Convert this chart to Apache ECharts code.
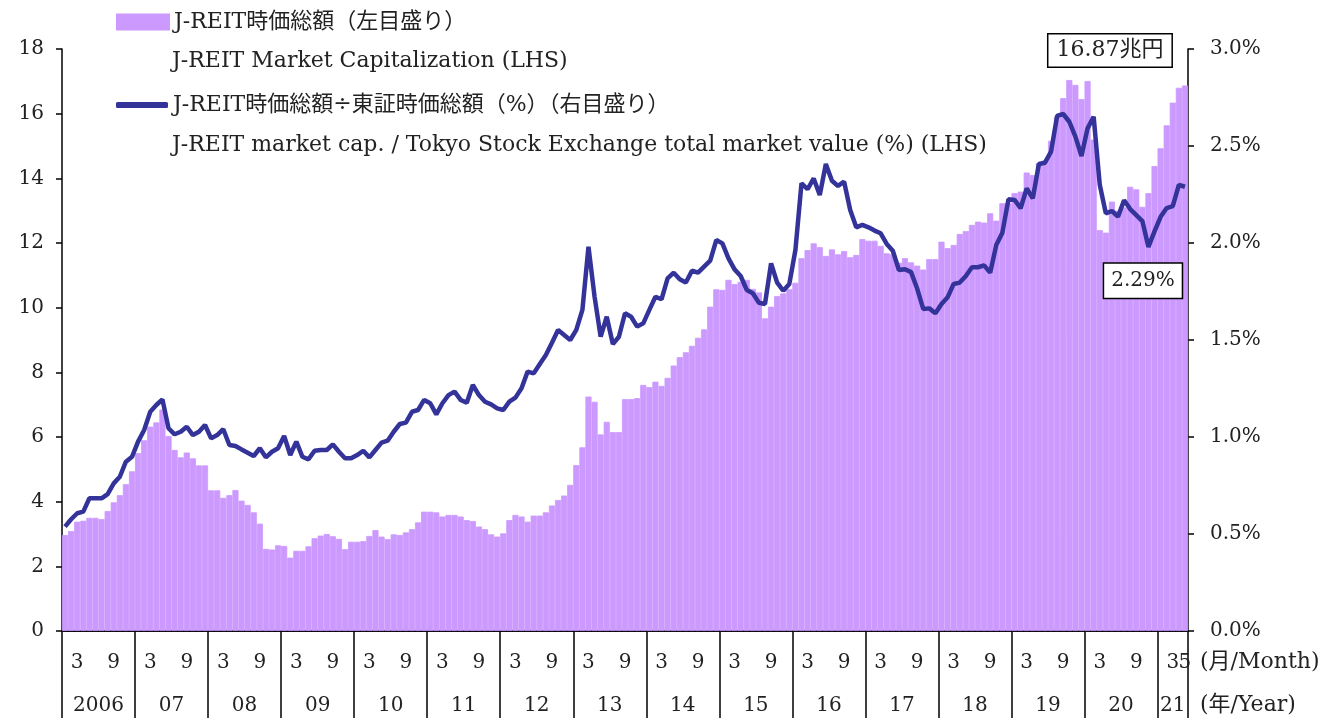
<!DOCTYPE html>
<html>
<head>
<meta charset="utf-8">
<script src="https://cdn.jsdelivr.net/npm/echarts@6/dist/echarts.min.js"></script>
<style>
html, body { margin: 0; padding: 0; background: #fff; }
#chart { width: 1330px; height: 718px; }
</style>
</head>
<body>
<div id="chart"></div>
<script>
// 月次データ 2006年1月〜2021年5月
var startYear = 2006;
var yearLabels = ['2006', '07', '08', '09', '10', '11', '12', '13', '14', '15', '16', '17', '18', '19', '20', '21'];

// J-REIT時価総額（兆円）
var capData = [
  2.97, 3.09, 3.38, 3.41, 3.50, 3.50, 3.46, 3.71, 3.98, 4.20, 4.54, 4.94,
  5.50, 5.90, 6.32, 6.45, 6.85, 6.03, 5.60, 5.37, 5.52, 5.34, 5.12, 5.12,
  4.35, 4.35, 4.12, 4.20, 4.36, 4.03, 3.90, 3.67, 3.32, 2.54, 2.52, 2.65,
  2.63, 2.27, 2.48, 2.48, 2.62, 2.87, 2.95, 3.00, 2.93, 2.85, 2.53, 2.76,
  2.76, 2.78, 2.94, 3.12, 2.92, 2.84, 2.99, 2.97, 3.05, 3.15, 3.36, 3.69,
  3.69, 3.67, 3.54, 3.59, 3.59, 3.54, 3.43, 3.40, 3.23, 3.15, 2.99, 2.92,
  3.02, 3.43, 3.59, 3.54, 3.38, 3.57, 3.57, 3.67, 3.88, 4.05, 4.19, 4.52,
  5.13, 5.68, 7.25, 7.09, 6.08, 6.47, 6.15, 6.15, 7.17, 7.17, 7.20, 7.61,
  7.54, 7.71, 7.58, 7.83, 8.21, 8.47, 8.62, 8.82, 9.07, 9.33, 10.03, 10.57,
  10.55, 10.86, 10.73, 10.80, 10.86, 10.58, 10.47, 9.67, 10.03, 10.36, 10.44, 10.57,
  10.77, 11.53, 11.78, 11.99, 11.87, 11.60, 11.80, 11.65, 11.75, 11.56, 11.63, 12.12,
  12.07, 12.07, 11.91, 11.68, 11.65, 11.39, 11.53, 11.40, 11.30, 11.18, 11.50, 11.50,
  12.04, 11.84, 11.94, 12.28, 12.37, 12.56, 12.66, 12.63, 12.92, 12.69, 13.23, 13.23,
  13.54, 13.59, 14.18, 14.10, 14.47, 14.55, 15.16, 15.89, 16.48, 17.04, 16.89, 16.45,
  17.01, 15.20, 12.40, 12.32, 13.28, 13.00, 13.10, 13.74, 13.66, 13.12, 13.54, 14.38,
  14.93, 15.64, 16.34, 16.80, 16.87
];

// J-REIT時価総額÷東証時価総額（%）
var ratioData = [
  0.538, 0.576, 0.607, 0.615, 0.684, 0.684, 0.684, 0.706, 0.761, 0.795, 0.873, 0.898,
  0.976, 1.036, 1.130, 1.165, 1.194, 1.045, 1.014, 1.027, 1.053, 1.010, 1.027, 1.062,
  0.993, 1.010, 1.040, 0.959, 0.954, 0.936, 0.919, 0.902, 0.942, 0.895, 0.924, 0.942,
  1.005, 0.907, 0.976, 0.898, 0.885, 0.929, 0.933, 0.933, 0.962, 0.924, 0.890, 0.890,
  0.907, 0.929, 0.895, 0.933, 0.971, 0.981, 1.027, 1.067, 1.074, 1.130, 1.139, 1.191,
  1.174, 1.117, 1.174, 1.216, 1.234, 1.191, 1.177, 1.268, 1.216, 1.182, 1.168, 1.148,
  1.139, 1.182, 1.203, 1.251, 1.337, 1.328, 1.376, 1.423, 1.486, 1.552, 1.526, 1.500,
  1.552, 1.655, 1.981, 1.723, 1.517, 1.620, 1.479, 1.517, 1.638, 1.620, 1.569, 1.586,
  1.655, 1.723, 1.710, 1.818, 1.847, 1.813, 1.796, 1.857, 1.847, 1.878, 1.909, 2.015,
  1.998, 1.921, 1.864, 1.830, 1.758, 1.741, 1.692, 1.686, 1.895, 1.796, 1.754, 1.789,
  1.964, 2.308, 2.277, 2.333, 2.247, 2.407, 2.321, 2.294, 2.316, 2.170, 2.081, 2.093,
  2.081, 2.064, 2.050, 1.995, 1.960, 1.861, 1.865, 1.850, 1.765, 1.660, 1.663, 1.638,
  1.686, 1.720, 1.789, 1.796, 1.830, 1.875, 1.875, 1.885, 1.847, 1.990, 2.053, 2.225,
  2.222, 2.179, 2.282, 2.230, 2.407, 2.414, 2.471, 2.655, 2.665, 2.625, 2.548, 2.448,
  2.591, 2.651, 2.300, 2.153, 2.165, 2.136, 2.220, 2.175, 2.144, 2.113, 1.980, 2.060,
  2.135, 2.180, 2.190, 2.300, 2.290
];

var capName = 'J-REIT時価総額（左目盛り）';
var ratioName = 'J-REIT時価総額÷東証時価総額（%）（右目盛り）';
var font = "'DejaVu Serif', 'Noto Sans CJK JP', serif";

var n = capData.length;
var months = [];
for (var i = 0; i < n; i++) {
  months.push((startYear + Math.floor(i / 12)) + '/' + (i % 12 + 1));
}
// 年の区切りと年ラベル位置
var yearTicks = [];
var yearCenters = [];
for (var k = 0; k < yearLabels.length; k++) {
  var s = k * 12, e = Math.min(s + 12, n);
  yearTicks.push(s);
  yearCenters.push((s + e) / 2);
}
yearTicks.push(n);

var legendText = { fontFamily: font, fontSize: 22, color: '#222', lineHeight: 24 };

var chart = echarts.init(document.getElementById('chart'));
chart.setOption({
  animation: false,
  textStyle: { fontFamily: font },
  grid: { left: 62, right: 142, top: 49, bottom: 87 },
  legend: [
    {
      left: 116, top: 10, padding: 0,
      itemWidth: 52, itemHeight: 15,
      textStyle: legendText,
      data: [{ name: capName, icon: 'rect' }]
    },
    {
      left: 116, top: 93, padding: 0,
      itemWidth: 52, itemHeight: 6,
      textStyle: legendText,
      data: [{ name: ratioName, icon: 'roundRect' }]
    }
  ],
  graphic: [
    { type: 'text', left: 172, top: 50, style: { text: 'J-REIT Market Capitalization (LHS)', font: '22px ' + font, fill: '#222' } },
    { type: 'text', left: 172, top: 134, style: { text: 'J-REIT market cap. / Tokyo Stock Exchange total market value (%) (LHS)', font: '22px ' + font, fill: '#222' } },
    { type: 'text', left: 1200, top: 651, style: { text: '(月/Month)', font: '22px ' + font, fill: '#222' } },
    { type: 'text', left: 1200, top: 694, style: { text: '(年/Year)', font: '22px ' + font, fill: '#222' } }
  ],
  xAxis: [
    {
      type: 'category',
      data: months,
      position: 'bottom',
      axisLine: { lineStyle: { color: '#000', width: 2 } },
      axisTick: { show: false },
      axisLabel: {
        interval: 0,
        formatter: function (val, idx) {
          var m = idx % 12 + 1;
          return (m === 3 || m === 9 || idx === n - 1) ? String(m) : '';
        },
        margin: 22,
        fontSize: 20,
        color: '#222',
        fontFamily: font
      }
    },
    {
      type: 'value',
      position: 'bottom',
      min: 0,
      max: n,
      axisLine: { show: false },
      splitLine: { show: false },
      axisTick: {
        show: true,
        customValues: yearTicks,
        length: 87,
        lineStyle: { color: '#000', width: 1.5 }
      },
      axisLabel: {
        customValues: yearCenters,
        formatter: function (v) { return yearLabels[Math.floor(v / 12)]; },
        margin: 65,
        fontSize: 20,
        color: '#222',
        fontFamily: font
      }
    }
  ],
  yAxis: [
    {
      type: 'value',
      min: 0,
      max: 18,
      interval: 2,
      splitLine: { show: false },
      axisLine: { show: true, lineStyle: { color: '#000', width: 1.5 } },
      axisTick: { show: true, length: 6, lineStyle: { color: '#000', width: 1.5 } },
      axisLabel: { margin: 18, fontSize: 20, color: '#222', fontFamily: font }
    },
    {
      type: 'value',
      min: 0,
      max: 3,
      interval: 0.5,
      position: 'right',
      splitLine: { show: false },
      axisLine: { show: true, lineStyle: { color: '#000', width: 1.5 } },
      axisTick: { show: true, length: 6, lineStyle: { color: '#000', width: 1.5 } },
      axisLabel: {
        margin: 22,
        fontSize: 20,
        color: '#222',
        fontFamily: font,
        formatter: function (v) { return v.toFixed(1) + '%'; }
      }
    }
  ],
  series: [
    {
      name: capName,
      type: 'bar',
      data: capData,
      barCategoryGap: '0%',
      itemStyle: { color: '#CC99FF', borderColor: '#CC99FF', borderWidth: 0.8 },
      markPoint: {
        symbol: 'rect',
        symbolSize: 1,
        itemStyle: { color: 'rgba(0,0,0,0)', borderWidth: 0 },
        label: {
          show: true,
          formatter: function () { return capData[n - 1].toFixed(2) + '兆円'; },
          offset: [-75, -35],
          fontSize: 22,
          color: '#222',
          fontFamily: font,
          backgroundColor: '#fff',
          borderColor: '#000',
          borderWidth: 1.5,
          padding: [6, 8, 4, 8]
        },
        data: [{ coord: [n - 1, capData[n - 1]] }]
      }
    },
    {
      name: ratioName,
      type: 'line',
      yAxisIndex: 1,
      data: ratioData,
      symbol: 'none',
      lineStyle: { color: '#333399', width: 4.5 },
      itemStyle: { color: '#333399' },
      z: 3,
      markPoint: {
        symbol: 'rect',
        symbolSize: 1,
        itemStyle: { color: 'rgba(0,0,0,0)', borderWidth: 0 },
        label: {
          show: true,
          formatter: function () { return ratioData[n - 1].toFixed(2) + '%'; },
          offset: [-42, 94],
          fontSize: 20,
          color: '#222',
          fontFamily: font,
          backgroundColor: '#fff',
          borderColor: '#000',
          borderWidth: 1.5,
          padding: [8, 7, 6, 7]
        },
        data: [{ coord: [n - 1, ratioData[n - 1]] }]
      }
    }
  ]
});
</script>
</body>
</html>
